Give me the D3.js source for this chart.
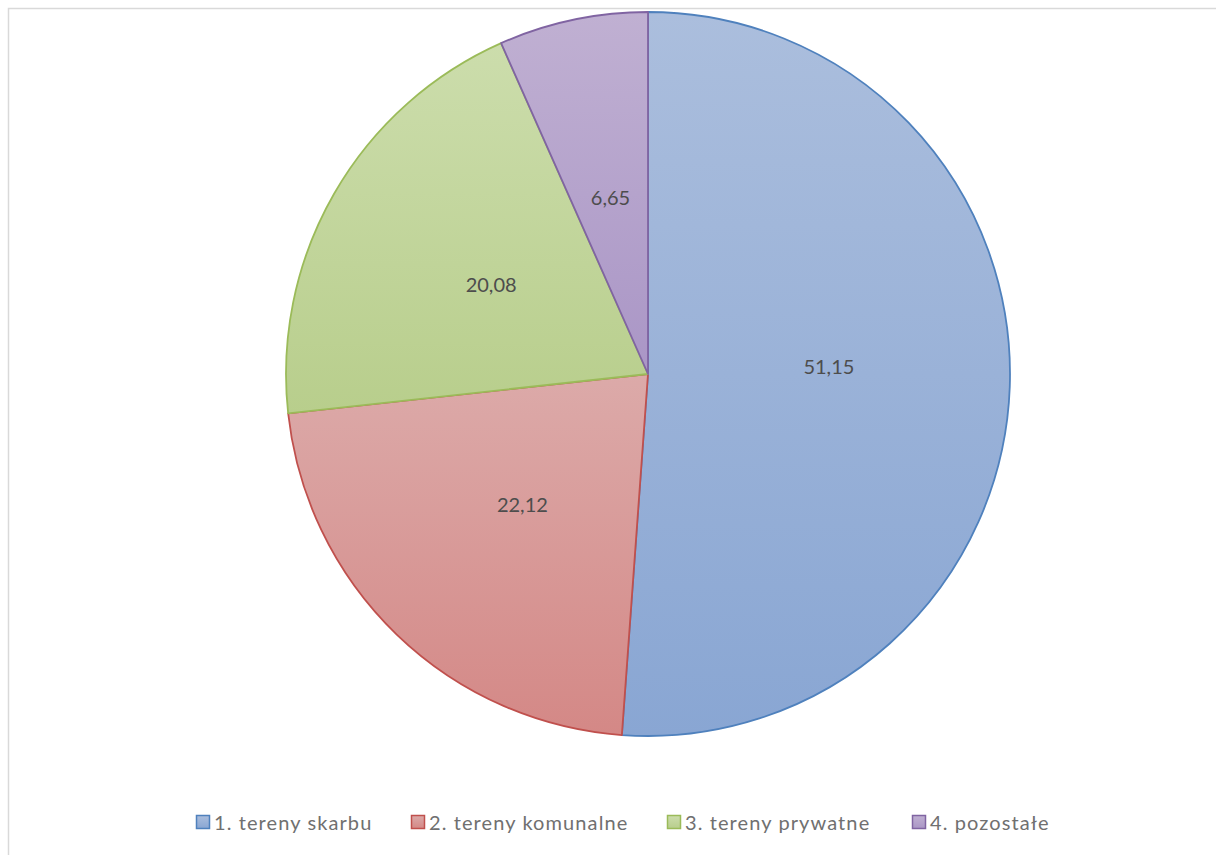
<!DOCTYPE html>
<html><head><meta charset="utf-8">
<script src="https://cdn.jsdelivr.net/npm/d3@7"></script>
<style>html,body{margin:0;padding:0;background:#fff;}svg{display:block;}</style>
</head><body>
<script>
const categories = ["1. tereny skarbu", "2. tereny komunalne", "3. tereny prywatne", "4. pozostałe"];
const values = [51.15, 22.12, 20.08, 6.65];
const labels = ["51,15", "22,12", "20,08", "6,65"];
const strokeColors = ["#4f81bd", "#c0504d", "#9bbb59", "#8064a2"];
const topColors = ["#abbedd", "#dcaaa9", "#ccddac", "#c0b0d2"];
const bottomColors = ["#89a6d3", "#d48886", "#b8ce8c", "#aa96c6"];

const W = 1216, H = 855;
const svg = d3.select("body").append("svg").attr("width", W).attr("height", H);

svg.append("rect").attr("x", 8.5).attr("y", 8.5).attr("width", W + 20).attr("height", H + 20)
  .attr("fill", "#fff").attr("stroke", "#d9d9d9").attr("stroke-width", 1.5);

const defs = svg.append("defs");
categories.forEach((c, i) => {
  const g = defs.append("linearGradient").attr("id", "g" + i)
    .attr("x1", 0).attr("y1", 0).attr("x2", 0).attr("y2", 1);
  g.append("stop").attr("offset", "0%").attr("stop-color", topColors[i]);
  g.append("stop").attr("offset", "100%").attr("stop-color", bottomColors[i]);
});

const cx = 648, cy = 374, r = 362;
const pie = d3.pie().sort(null).value(d => d)(values);
const arc = d3.arc().innerRadius(0).outerRadius(r);
const labelArc = d3.arc().innerRadius(r * 0.5).outerRadius(r * 0.5);

const gp = svg.append("g").attr("transform", `translate(${cx},${cy})`);
gp.selectAll("path").data(pie).join("path")
  .attr("d", arc)
  .attr("fill", (d, i) => `url(#g${i})`)
  .attr("stroke", (d, i) => strokeColors[i])
  .attr("stroke-width", 1.8)
  .attr("stroke-linejoin", "round");

gp.selectAll("text").data(pie).join("text")
  .attr("transform", d => {
    const c = labelArc.centroid(d);
    const y = Math.abs(c[1]) < 20 ? -8 : c[1];
    return `translate(${c[0]},${y})`;
  })
  .attr("text-anchor", "middle").attr("dominant-baseline", "central")
  .attr("font-family", "Lato, 'Open Sans', sans-serif").attr("font-size", 20)
  .attr("fill", "#4d4d4d")
  .text((d, i) => labels[i]);

// legend
const legendX = d3.scaleOrdinal().domain(categories).range([196, 411, 667, 912]);
const lg = svg.append("g");
const items = lg.selectAll("g").data(categories).join("g")
  .attr("transform", d => `translate(${legendX(d)},822)`);
items.append("rect").attr("x", 0.5).attr("y", -6.5).attr("width", 13).attr("height", 13)
  .attr("fill", (d, i) => `url(#g${i})`).attr("stroke", (d, i) => strokeColors[i]).attr("stroke-width", 1.5);
items.append("text").attr("x", 18).attr("y", 0).attr("dominant-baseline", "central")
  .attr("font-family", "Lato, 'Open Sans', sans-serif").attr("font-size", 20)
  .attr("letter-spacing", 1.1)
  .attr("fill", "#707070").text(d => d);
</script>
</body></html>
